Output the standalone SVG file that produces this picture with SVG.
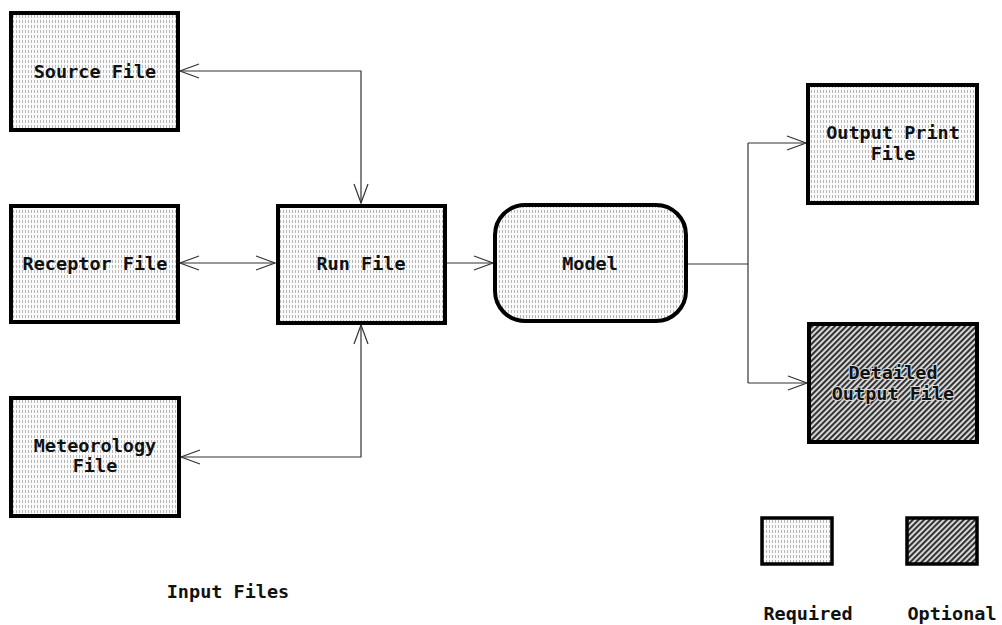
<svg xmlns="http://www.w3.org/2000/svg" width="1002" height="625" viewBox="0 0 1002 625">
  <style>
    .box { stroke: #000; stroke-width: 4; }
    .req { fill: url(#dots); }
    .opt { fill: url(#hatch); }
    .lbl { font-family: "DejaVu Sans Mono", "Liberation Mono", monospace; font-size: 18.5px; font-weight: bold; fill: #111; text-anchor: middle; dominant-baseline: central; }
    .halo { stroke: #d8d8d8; stroke-width: 2; paint-order: stroke; }
    .wire { fill: none; stroke: #333; stroke-width: 1.2; }
  </style>
  <defs>
    <!-- light stipple of short vertical strokes used for required files -->
    <pattern id="dots" width="3" height="5" patternUnits="userSpaceOnUse">
      <rect width="3" height="5" fill="#fafafa"/>
      <line x1="1.5" y1="0" x2="1.5" y2="3" stroke="#9a9a9a" stroke-width="0.7"/>
    </pattern>
    <!-- dense diagonal hatch for optional files -->
    <pattern id="hatch" width="4" height="4" patternUnits="userSpaceOnUse" patternTransform="rotate(45)">
      <rect width="4" height="4" fill="#e8e8e8"/>
      <rect width="2.2" height="4" fill="#333"/>
    </pattern>
    <marker id="arr" markerWidth="22" markerHeight="16" refX="20" refY="8" orient="auto-start-reverse" markerUnits="userSpaceOnUse">
      <path d="M1,1 L20,8 L1,15" fill="none" stroke="#333" stroke-width="1.2"/>
    </marker>
  </defs>

  <g id="connectors">
    <path class="wire" d="M180,71 H361 V203" marker-start="url(#arr)" marker-end="url(#arr)"/>
    <path class="wire" d="M180,263 H275" marker-start="url(#arr)" marker-end="url(#arr)"/>
    <path class="wire" d="M181,457 H361 V325" marker-start="url(#arr)" marker-end="url(#arr)"/>
    <path class="wire" d="M447,263 H493" marker-end="url(#arr)"/>
    <path class="wire" d="M688,264 H748"/>
    <path class="wire" d="M748,143 V383"/>
    <path class="wire" d="M748,143 H806" marker-end="url(#arr)"/>
    <path class="wire" d="M748,383 H807" marker-end="url(#arr)"/>
  </g>

  <g id="source-file">
    <rect class="box req" x="11" y="13" width="167" height="117"/>
    <text class="lbl" x="95" y="71">Source File</text>
  </g>
  <g id="receptor-file">
    <rect class="box req" x="11" y="206" width="167" height="116"/>
    <text class="lbl" x="95" y="263">Receptor File</text>
  </g>
  <g id="meteorology-file">
    <rect class="box req" x="11" y="398" width="168" height="118"/>
    <text class="lbl" x="95" y="445">Meteorology</text>
    <text class="lbl" x="95" y="465">File</text>
  </g>
  <g id="run-file">
    <rect class="box req" x="278" y="206" width="167" height="117"/>
    <text class="lbl" x="361" y="263">Run File</text>
  </g>
  <g id="model">
    <rect class="box req" x="495" y="205" width="191" height="116" rx="30" ry="30"/>
    <text class="lbl" x="590" y="263">Model</text>
  </g>
  <g id="output-print-file">
    <rect class="box req" x="808" y="85" width="169" height="118"/>
    <text class="lbl" x="893" y="132">Output Print</text>
    <text class="lbl" x="893" y="153">File</text>
  </g>
  <g id="detailed-output-file">
    <rect class="box opt" x="809" y="324" width="168" height="118"/>
    <text class="lbl halo" x="893" y="372">Detailed</text>
    <text class="lbl halo" x="893" y="393">Output File</text>
  </g>

  <g id="input-files-caption">
    <text class="lbl" x="228" y="591">Input Files</text>
  </g>

  <g id="legend">
    <rect class="box req" x="762" y="518" width="70" height="46" style="stroke-width:3.5"/>
    <rect class="box opt" x="907" y="518" width="70" height="46" style="stroke-width:3.5"/>
    <text class="lbl" x="808" y="613">Required</text>
    <text class="lbl" x="952" y="613">Optional</text>
  </g>
</svg>
